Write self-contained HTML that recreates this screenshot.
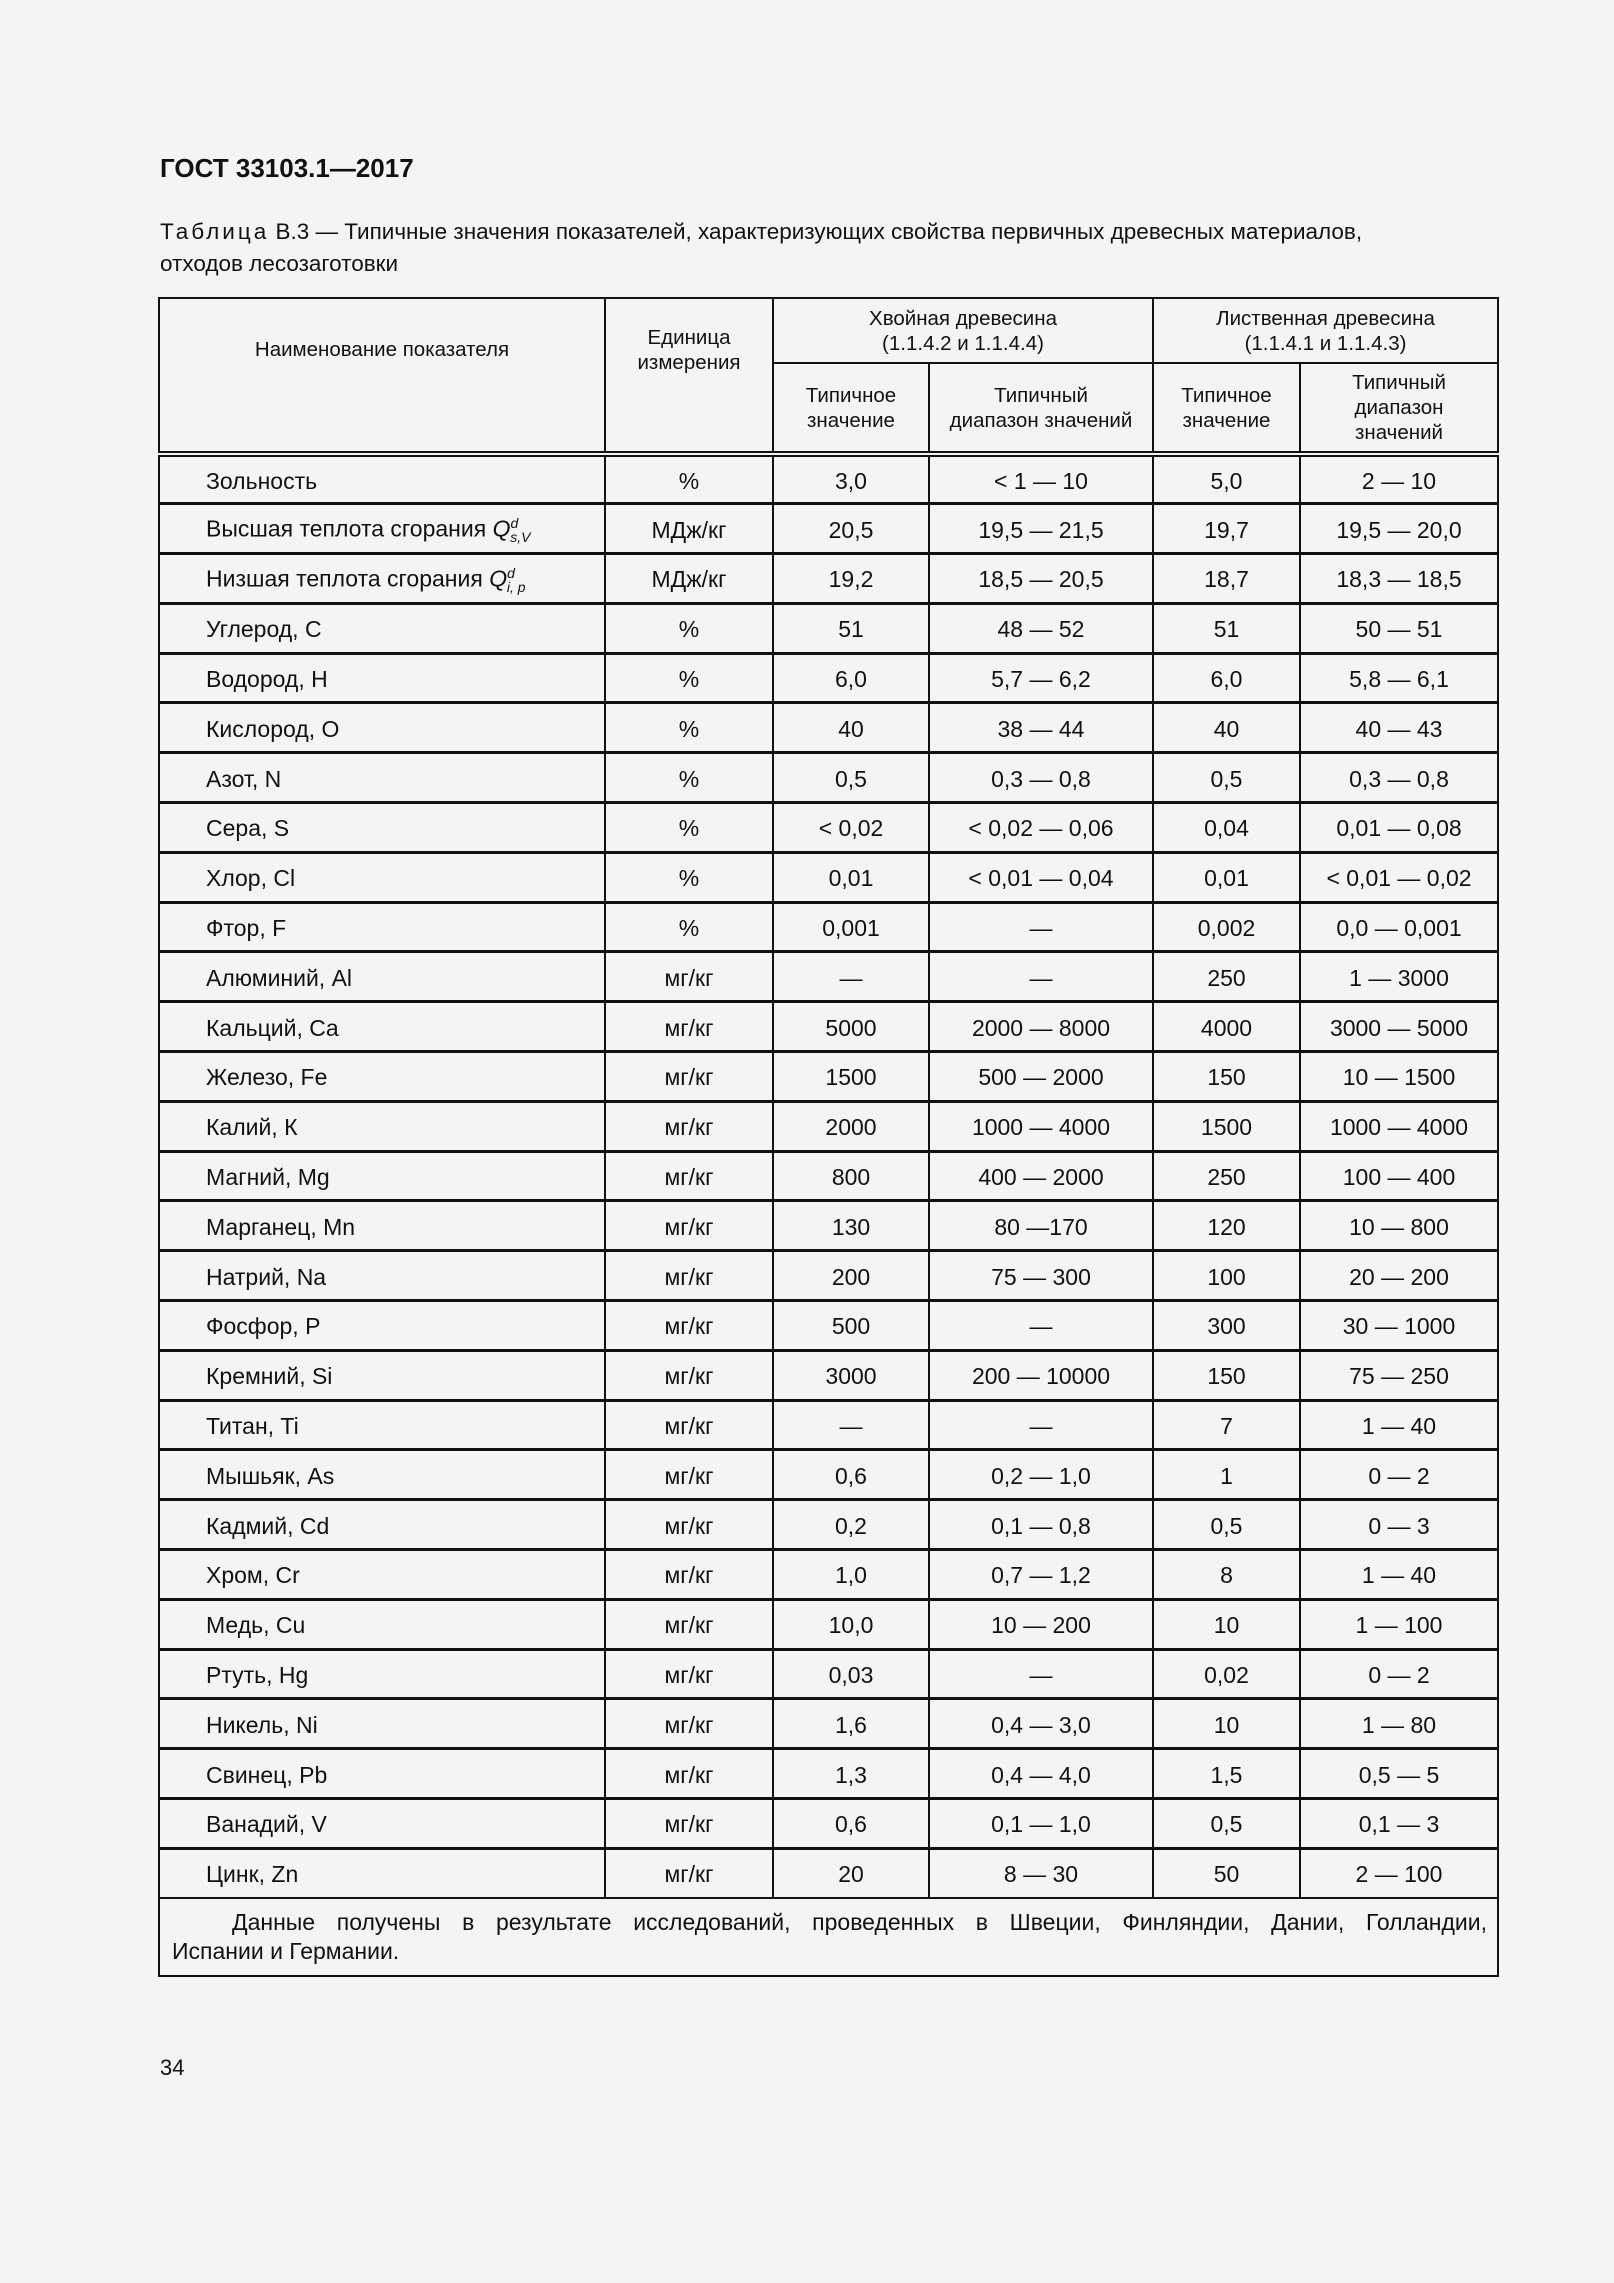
<!DOCTYPE html>
<html><head><meta charset="utf-8"><style>
body{margin:0;width:1614px;height:2283px;background:#f4f4f4;font-family:"Liberation Sans",Arial,sans-serif;color:#111;position:relative;overflow:hidden}
.t{position:absolute;left:160px;top:153px;font-weight:bold;font-size:26px}
.c{position:absolute;left:160px;top:216px;font-size:22.5px;line-height:32px;width:1345px}
table{position:absolute;left:158px;top:297px;width:1339px;border-collapse:collapse;table-layout:fixed}
td{border:2px solid #111;text-align:center;font-size:23px;padding:0;}
.h td{font-size:20.5px;line-height:25px}
tbody.d tr{height:49.8px}
tbody.d td{border-top:3px solid #111;padding-top:3px}
td.n{text-align:left;padding-left:46px}
td.dbl{border-bottom:6px double #111}
.f td{height:76px;text-align:left;font-size:23px;line-height:29px;padding:0 10px 0 12px}
.f span{display:block;text-align:justify;text-align-last:justify;padding-left:60px}
.p{position:absolute;left:160px;top:2055px;font-size:22px}
</style></head><body>
<div class="t">ГОСТ 33103.1—2017</div>
<div class="c"><span style="letter-spacing:3px">Таблица</span> В.3 — Типичные значения показателей, характеризующих свойства первичных древесных материалов,<br>отходов лесозаготовки</div>
<table>
<colgroup><col style="width:446px"><col style="width:168px"><col style="width:156px"><col style="width:224px"><col style="width:147px"><col style="width:198px"></colgroup>
<tbody class="h">
<tr style="height:65px"><td class="dbl" rowspan="2" style="vertical-align:top;padding-top:38px">Наименование показателя</td><td class="dbl" rowspan="2" style="vertical-align:top;padding-top:26px">Единица<br>измерения</td><td colspan="2">Хвойная древесина<br>(1.1.4.2 и 1.1.4.4)</td><td colspan="2">Лиственная древесина<br>(1.1.4.1 и 1.1.4.3)</td></tr>
<tr style="height:91px"><td class="dbl">Типичное<br>значение</td><td class="dbl">Типичный<br>диапазон значений</td><td class="dbl">Типичное<br>значение</td><td class="dbl">Типичный<br>диапазон<br>значений</td></tr>
</tbody>
<tbody class="d">
<tr><td class="n">Зольность</td><td>%</td><td>3,0</td><td>&lt; 1 — 10</td><td>5,0</td><td>2 — 10</td></tr>
<tr><td class="n">Высшая теплота сгорания <i>Q</i><sup style="font-size:14px"><i>d</i></sup><sub style="font-size:14px;margin-left:-8px"><i>s,V</i></sub></td><td>МДж/кг</td><td>20,5</td><td>19,5 — 21,5</td><td>19,7</td><td>19,5 — 20,0</td></tr>
<tr><td class="n">Низшая теплота сгорания <i>Q</i><sup style="font-size:14px"><i>d</i></sup><sub style="font-size:14px;margin-left:-8px"><i>i, p</i></sub></td><td>МДж/кг</td><td>19,2</td><td>18,5 — 20,5</td><td>18,7</td><td>18,3 — 18,5</td></tr>
<tr><td class="n">Углерод, С</td><td>%</td><td>51</td><td>48 — 52</td><td>51</td><td>50 — 51</td></tr>
<tr><td class="n">Водород, Н</td><td>%</td><td>6,0</td><td>5,7 — 6,2</td><td>6,0</td><td>5,8 — 6,1</td></tr>
<tr><td class="n">Кислород, О</td><td>%</td><td>40</td><td>38 — 44</td><td>40</td><td>40 — 43</td></tr>
<tr><td class="n">Азот, N</td><td>%</td><td>0,5</td><td>0,3 — 0,8</td><td>0,5</td><td>0,3 — 0,8</td></tr>
<tr><td class="n">Сера, S</td><td>%</td><td>&lt; 0,02</td><td>&lt; 0,02 — 0,06</td><td>0,04</td><td>0,01 — 0,08</td></tr>
<tr><td class="n">Хлор, Cl</td><td>%</td><td>0,01</td><td>&lt; 0,01 — 0,04</td><td>0,01</td><td>&lt; 0,01 — 0,02</td></tr>
<tr><td class="n">Фтор, F</td><td>%</td><td>0,001</td><td>—</td><td>0,002</td><td>0,0 — 0,001</td></tr>
<tr><td class="n">Алюминий, Al</td><td>мг/кг</td><td>—</td><td>—</td><td>250</td><td>1 — 3000</td></tr>
<tr><td class="n">Кальций, Ca</td><td>мг/кг</td><td>5000</td><td>2000 — 8000</td><td>4000</td><td>3000 — 5000</td></tr>
<tr><td class="n">Железо, Fe</td><td>мг/кг</td><td>1500</td><td>500 — 2000</td><td>150</td><td>10 — 1500</td></tr>
<tr><td class="n">Калий, К</td><td>мг/кг</td><td>2000</td><td>1000 — 4000</td><td>1500</td><td>1000 — 4000</td></tr>
<tr><td class="n">Магний, Mg</td><td>мг/кг</td><td>800</td><td>400 — 2000</td><td>250</td><td>100 — 400</td></tr>
<tr><td class="n">Марганец, Mn</td><td>мг/кг</td><td>130</td><td>80 —170</td><td>120</td><td>10 — 800</td></tr>
<tr><td class="n">Натрий, Na</td><td>мг/кг</td><td>200</td><td>75 — 300</td><td>100</td><td>20 — 200</td></tr>
<tr><td class="n">Фосфор, P</td><td>мг/кг</td><td>500</td><td>—</td><td>300</td><td>30 — 1000</td></tr>
<tr><td class="n">Кремний, Si</td><td>мг/кг</td><td>3000</td><td>200 — 10000</td><td>150</td><td>75 — 250</td></tr>
<tr><td class="n">Титан, Ti</td><td>мг/кг</td><td>—</td><td>—</td><td>7</td><td>1 — 40</td></tr>
<tr><td class="n">Мышьяк, As</td><td>мг/кг</td><td>0,6</td><td>0,2 — 1,0</td><td>1</td><td>0 — 2</td></tr>
<tr><td class="n">Кадмий, Cd</td><td>мг/кг</td><td>0,2</td><td>0,1 — 0,8</td><td>0,5</td><td>0 — 3</td></tr>
<tr><td class="n">Хром, Cr</td><td>мг/кг</td><td>1,0</td><td>0,7 — 1,2</td><td>8</td><td>1 — 40</td></tr>
<tr><td class="n">Медь, Cu</td><td>мг/кг</td><td>10,0</td><td>10 — 200</td><td>10</td><td>1 — 100</td></tr>
<tr><td class="n">Ртуть, Hg</td><td>мг/кг</td><td>0,03</td><td>—</td><td>0,02</td><td>0 — 2</td></tr>
<tr><td class="n">Никель, Ni</td><td>мг/кг</td><td>1,6</td><td>0,4 — 3,0</td><td>10</td><td>1 — 80</td></tr>
<tr><td class="n">Свинец, Pb</td><td>мг/кг</td><td>1,3</td><td>0,4 — 4,0</td><td>1,5</td><td>0,5 — 5</td></tr>
<tr><td class="n">Ванадий, V</td><td>мг/кг</td><td>0,6</td><td>0,1 — 1,0</td><td>0,5</td><td>0,1 — 3</td></tr>
<tr><td class="n">Цинк, Zn</td><td>мг/кг</td><td>20</td><td>8 — 30</td><td>50</td><td>2 — 100</td></tr>
</tbody>
<tbody><tr class="f"><td colspan="6"><span>Данные получены в результате исследований, проведенных в Швеции, Финляндии, Дании, Голландии,</span>Испании и Германии.</td></tr></tbody>
</table>
<div class="p">34</div>
</body></html>
